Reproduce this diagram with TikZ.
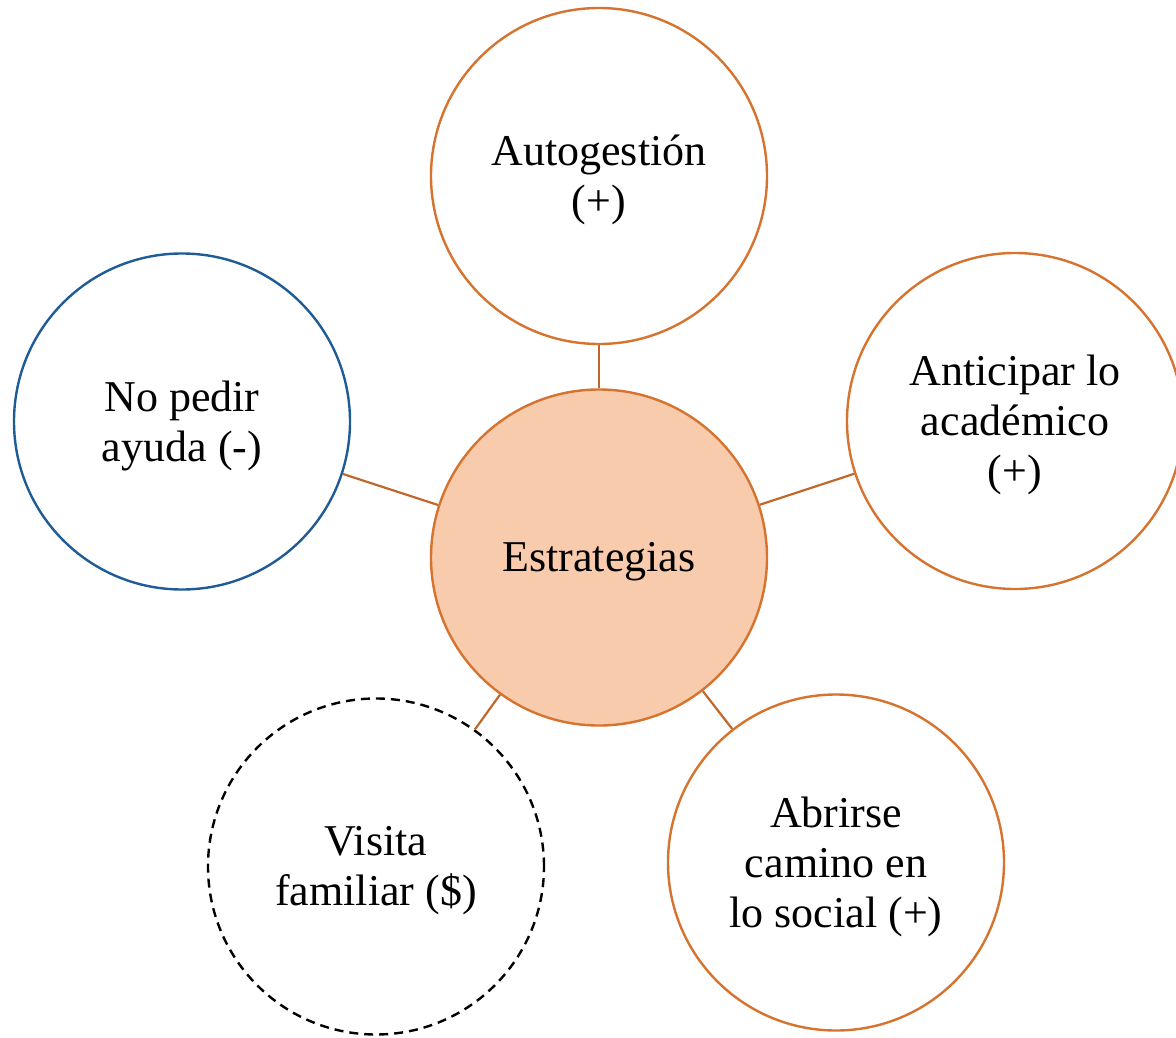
\documentclass[tikz,border=0pt]{standalone}
\usepackage{fontspec}
\setmainfont{Liberation Serif}
\definecolor{orstroke}{HTML}{D5732F}
\definecolor{orline}{HTML}{C2672B}
\definecolor{peach}{HTML}{F7CBAC}
\definecolor{bluestroke}{HTML}{1F5C96}
\tikzset{
  bubble/.style={circle, minimum size=336pt, inner sep=0pt, line width=2.4pt},
  orbubble/.style={bubble, draw=orstroke, fill=white},
  hubbubble/.style={bubble, draw=orstroke, fill=peach},
  bluebubble/.style={bubble, draw=bluestroke, fill=white},
  dashbubble/.style={bubble, draw=black, fill=white, dash pattern=on 9pt off 6pt},
  txt/.style={align=center, inner sep=0pt, font=\fontsize{44}{50}\selectfont, text=black, yshift=-4pt},
  link/.style={draw=orline, line width=2.2pt}
}
\begin{document}
\begin{tikzpicture}[x=1pt,y=-1pt]
\useasboundingbox (0,0) rectangle (1176,1038);
\node[hubbubble] (hub) at (599,557.5) {};
\node[orbubble] (top) at (599,176) {};
\node[orbubble] (right) at (1015,421) {};
\node[bluebubble] (left) at (182,421.5) {};
\node[dashbubble] (bl) at (376,866.5) {};
\node[orbubble] (br) at (836,862.5) {};
\node[txt] (hubtxt) at (hub) {Estrategias};
\node[txt] (toptxt) at (top) {Autogestión\\(+)};
\node[txt] (righttxt) at (right) {Anticipar lo\\académico\\(+)};
\node[txt] (lefttxt) at (left) {No pedir\\ayuda (-)};
\node[txt] (bltxt) at (bl) {Visita\\familiar (\$)};
\node[txt] (brtxt) at (br) {Abrirse\\camino en\\lo social (+)};
\draw[link] (hub) -- (top);
\draw[link] (hub) -- (right);
\draw[link] (hub) -- (left);
\draw[link] (hub) -- (bl);
\draw[link] (hub) -- (br);
\end{tikzpicture}
\end{document}
